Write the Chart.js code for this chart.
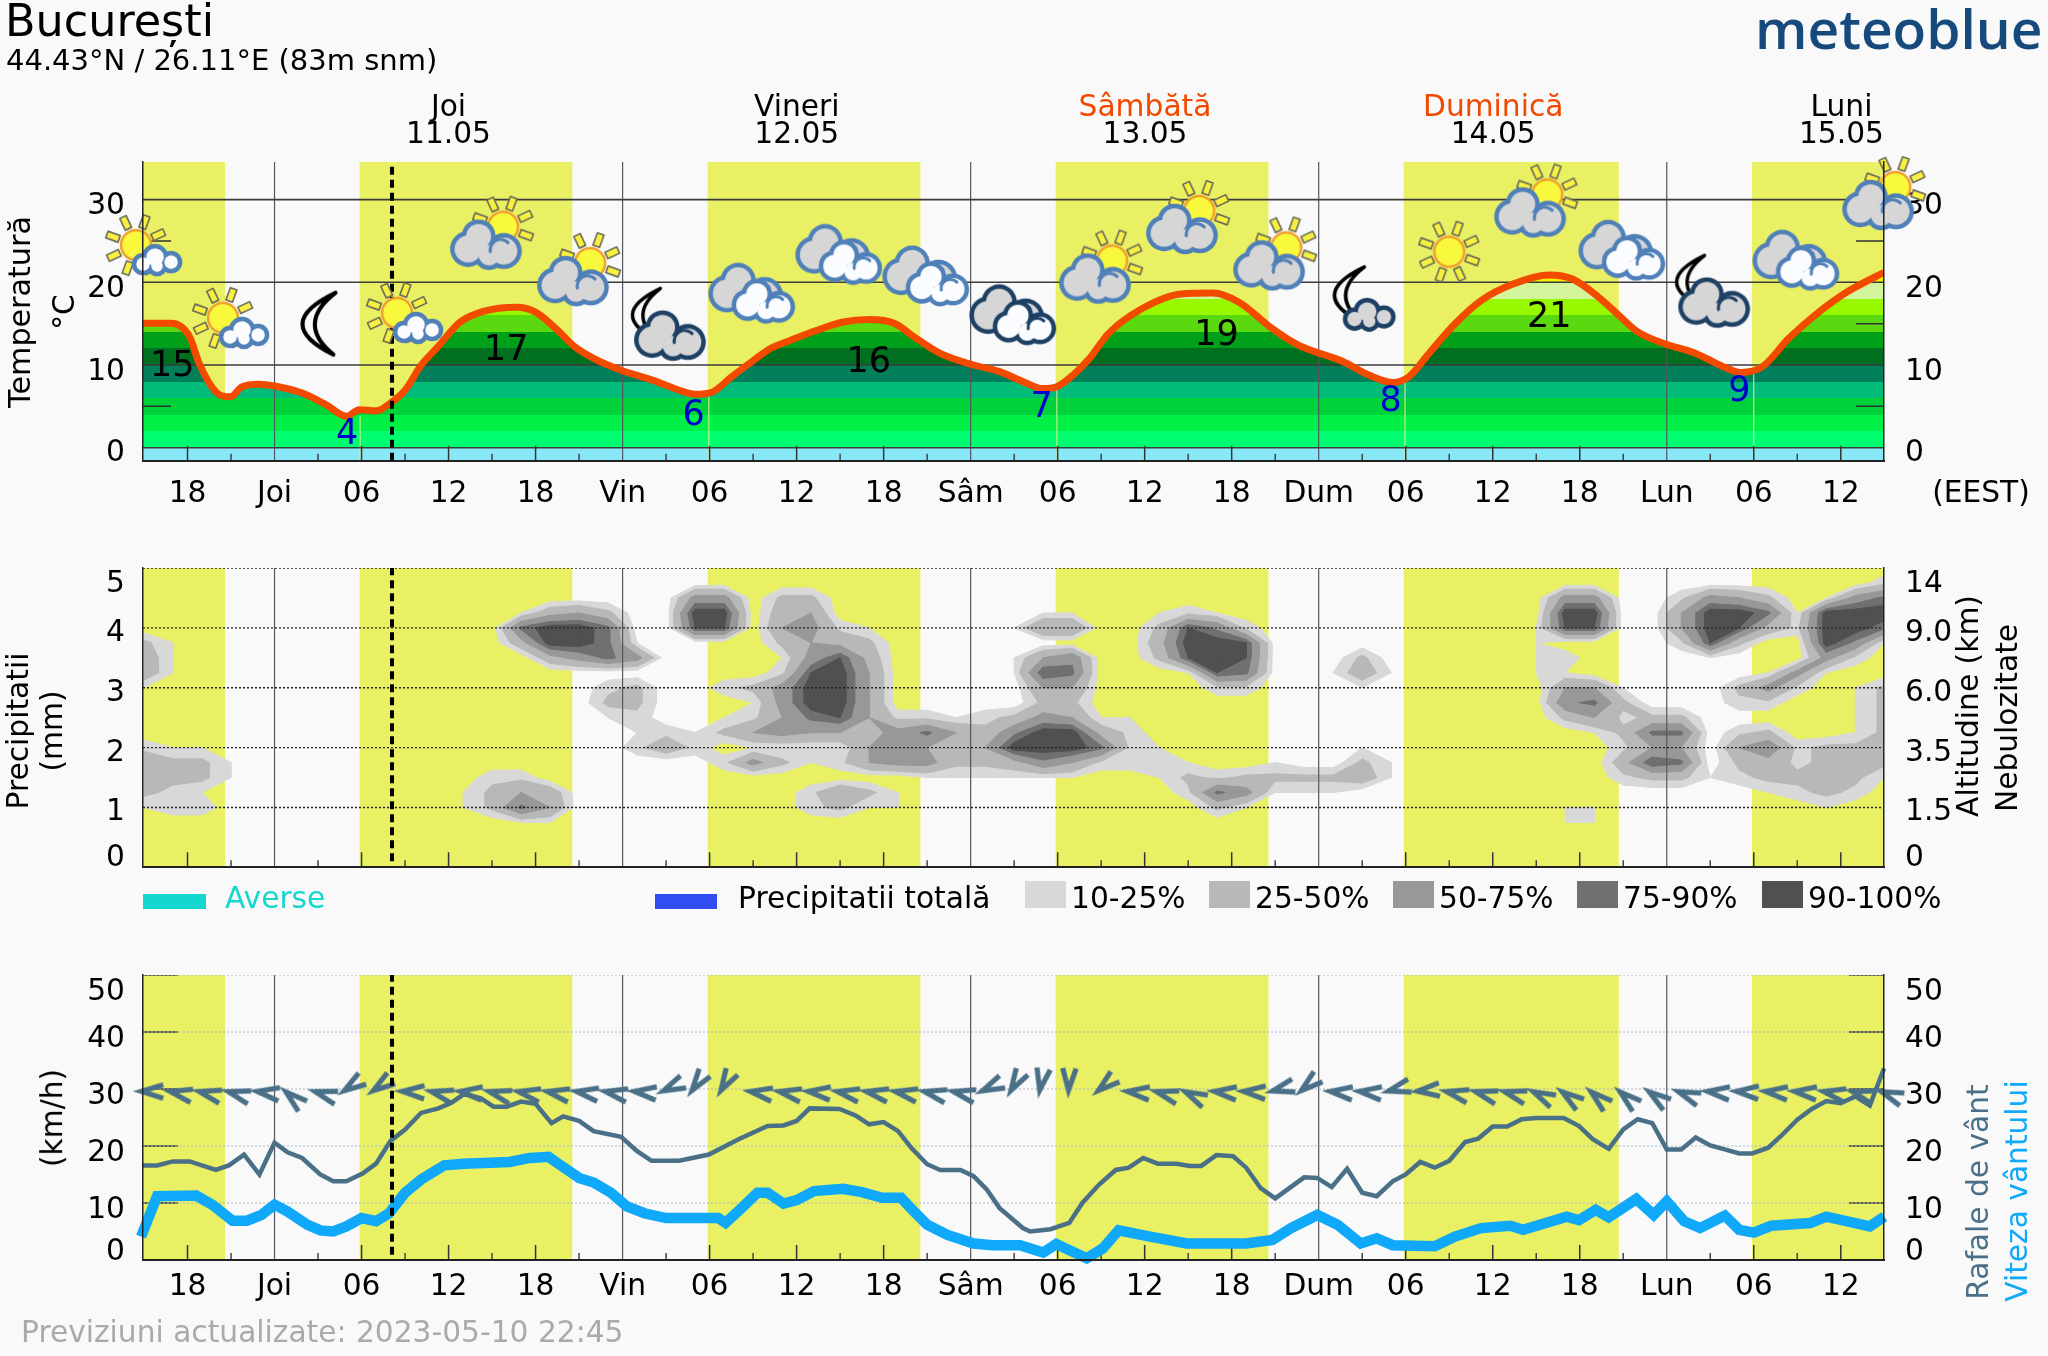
<!DOCTYPE html>
<html>
<head>
<meta charset="utf-8">
<title>Bucuresti meteogram</title>
<script src="https://cdn.jsdelivr.net/npm/chart.js@4"></script>
<style>
  body { margin: 0; background: #f9f9f9; overflow: hidden; font-family: "DejaVu Sans"; }
  canvas { position: absolute; left: 0; }
  .t { position: absolute; white-space: nowrap; color: #000; font-size: 29.7px; line-height: 1; }
</style>
</head>
<body>
<canvas id="chartTemp" width="2048" height="520" style="top:0"></canvas>
<canvas id="chartCloud" width="2048" height="380" style="top:530px"></canvas>
<canvas id="chartWind" width="2048" height="390" style="top:930px"></canvas>
<script>
// time axis is in hours from Thursday 00:00
var hourMin = -9.07, hourMax = 110.98;
var xTickHours = [-6, 0, 6, 12, 18, 24, 30, 36, 42, 48, 54, 60, 66, 72, 78, 84, 90, 96, 102, 108];
var xTickLabels = ['18', 'Joi', '06', '12', '18', 'Vin', '06', '12', '18', 'Sâm', '06', '12', '18', 'Dum', '06', '12', '18', 'Lun', '06', '12'];
var dayHours = [0, 24, 48, 72, 96];
var nowHour = 8.1;
var sunStart = [-9.07, 5.85, 29.85, 53.85, 77.85, 101.85];
var sunEnd = [-3.4, 20.55, 44.55, 68.55, 92.7, 110.98];
var sunriseHours = [5.9, 29.95, 53.95, 77.95, 102];
var sunriseTemp = [3.8, 6.5, 7.3, 8, 9];

var dayNames = ['Joi', 'Vineri', 'Sâmbătă', 'Duminică', 'Luni'];
var dayDates = ['11.05', '12.05', '13.05', '14.05', '15.05'];
var dayNameColors = ['#000', '#000', '#f04a00', '#f04a00', '#000'];

var tempHours = [-9.07, -7.1, -5.85, -5.2, -4.05, -3.06, -2.25, -1.1, 0, 2, 3.6, 4.95, 5.85, 7, 8.1, 9, 10.1, 11.26, 12.8, 14.4, 16.7, 18, 19.4, 20.7, 22, 23.9, 26.1, 27.9, 29, 30.2, 31.5, 32.9, 34.2, 35.6, 37.4, 39.2, 41, 42.8, 44.1, 45.9, 48.2, 50, 51.66, 53, 53.9, 55.04, 56.2, 57.5, 59.8, 62.5, 64.7, 66.5, 68.8, 70.6, 73.7, 75.5, 77.1, 78.2, 79.6, 81.4, 83.2, 85.4, 87.9, 89.5, 91.3, 92.7, 94, 95.8, 98, 99.9, 101.1, 102.6, 104.4, 106.2, 108.4, 110.98];
var tempValues = [15.06, 15.06, 13.4, 10.2, 6.75, 6.15, 7.35, 7.67, 7.47, 6.55, 5.14, 3.8, 4.6, 4.46, 5.54, 6.95, 9.96, 12.2, 15.2, 16.5, 17, 16.4, 14.4, 12.2, 10.8, 9.36, 8.15, 6.95, 6.47, 6.75, 8.55, 10.4, 12, 13, 14.2, 15.2, 15.5, 15, 13.4, 11.4, 10, 9.2, 7.95, 7.15, 7.35, 8.75, 10.8, 13.8, 16.8, 18.6, 18.7, 17.6, 14.4, 12.4, 10.4, 8.75, 7.9, 8.55, 11.4, 15, 17.8, 19.8, 20.9, 20.4, 18.2, 16, 14, 12.6, 11.4, 9.8, 9.1, 9.8, 13.2, 16, 18.8, 21.2];
var tempBandEdges = [-2, 0, 2, 4, 6, 8, 10, 12, 14, 16, 18, 20, 22];
var tempBandColors = ['#88e8f8', '#00ff70', '#00f048', '#00d23c', '#00bc78', '#007f5a', '#007020', '#00a01a', '#5ad810', '#98f800', '#d2f49a', '#f5f000'];
var tempMaxHours = [-7.05, 15.97, 40.97, 64.96, 87.9];
var tempMaxY = [9.8, 11.7, 10.3, 13.5, 15.7];
var tempMaxText = ['15', '17', '16', '19', '21'];
var tempMinHours = [5, 28.9, 52.9, 76.96, 101];
var tempMinY = [1.5, 3.9, 4.8, 5.6, 6.8];
var tempMinText = ['4', '6', '7', '8', '9'];

// weather symbols, one every 6 hours
var iconHours = [-9, -3, 3, 9, 15, 21, 27, 33, 39, 45, 51, 57, 63, 69, 75, 81, 87, 93, 99, 105, 111];
var iconY = [24.5, 15.7, 15, 16.3, 26, 21.6, 15, 18.8, 23.5, 20.9, 16.2, 21.9, 27.9, 23.5, 18, 23.7, 29.9, 24, 19, 22.8, 30.8];
var iconKinds = ['sunSmall', 'sunSmall', 'moon', 'sunSmall', 'sunCloud', 'sunCloud', 'moonCloud', 'clouds', 'clouds', 'clouds', 'darkClouds', 'sunCloud', 'sunCloud', 'sunCloud', 'moonSmall', 'sun', 'sunCloud', 'clouds', 'moonCloud', 'clouds', 'sunCloud'];

// cloud cover in tenths, X = full, one column every 2 hours from -9, one row per level below
var cloudRowY = [5, 4.75, 4.5, 4.25, 4, 3.75, 3.5, 3.25, 3, 2.75, 2.5, 2.25, 2, 1.75, 1.5, 1.25, 1, 0.75, 0.5];
var cloudRows = [
  '.......... .......... .......... .......... .......... .......... .',
  '.......... .......... .......... .......... .......... .......... 2',
  '.......... .........6 6.33...... .......... .........6 6..2653.16 8',
  '.......... ...1453..X X.45...... .11..121.. .........X X..5XX81XX X',
  '.......... ...8XX8..9 9.5621.... 155..3972. ........19 9..5X942XX 8',
  '31........ ...4XX81.. ..3543.... .....4XX9. ........1. ...293..X7 1',
  '41........ ....4686.. ..1694.... 157..39X9. ..3.....12 ....1...62 .',
  '41........ .......... ..29X5.... 198...198. .141....11 ......161. .',
  '1......... ......23.. 236XX5.... .55....22. ..1......5 51...362.1 3',
  '.......... ......33.. .16XX5.... .33....... .........7 83...22..1 3',
  '.......... ......12.. 1258952212 36511..... .........3 5233.....1 3',
  '.......... .......121 3565546853 7XX42..... .......... 1388.23..1 3',
  '211....... .......242 .111155535 XXX821.... ..1....... .255.57233 3',
  '4331...... .......... 2631256633 4752211..1 ..31...... .498.34233 3',
  '4331...... ..22...... .......111 111..13233 3341...... .233123333 1',
  '321....... .1354..... ...2531... ......2861 11........ ......1232 .',
  '122....... .1385..... ...2311... .......31. .........1 1.......1. .',
  '.......... ...11..... .......... .......... .........1 1......... .',
  '.......... .......... .......... .......... .......... .......... .'
];
var cloudThresholds = [10, 25, 50, 75, 90];
var cloudColors = ['#d8d8d8', '#b8b8b8', '#989898', '#707070', '#505050'];

var legendItems = ['10-25%', '25-50%', '50-75%', '75-90%', '90-100%'];

var gustHours = [-9.07, -8.1, -7, -5.85, -4.05, -3.15, -2.1, -1.04, 0, 0.9, 1.9, 3.15, 4.05, 4.95, 6.1, 7, 8, 9, 10.1, 11.3, 12.2, 13.06, 14.2, 15.1, 16, 17, 18, 19.1, 19.9, 21, 22, 23.9, 25, 26, 27.9, 29.95, 32, 34, 35.1, 36, 36.9, 38.96, 40.1, 41, 42, 43, 43.9, 45, 45.9, 47.3, 48.2, 49.1, 50, 51.6, 52.1, 53.5, 54.8, 55.7, 56.84, 58, 58.9, 59.9, 60.9, 62.2, 63.1, 63.9, 64.95, 66.1, 67, 68, 69, 71, 71.9, 72.9, 73.96, 75, 76, 77.1, 78, 79, 80, 81, 82.1, 83, 84, 85, 86, 87, 88.9, 89.95, 90.9, 92, 93, 94, 95, 96, 97, 98, 99, 100, 101, 101.9, 103, 103.9, 105, 106, 107, 108, 109, 110, 110.98];
var gustValues = [16.6, 16.6, 17.3, 17.3, 15.8, 16.6, 18.5, 15, 20.6, 18.9, 17.9, 15, 13.8, 13.8, 15.2, 16.9, 20.9, 22.9, 25.8, 26.6, 27.6, 29.1, 28.4, 26.9, 26.9, 27.8, 27.4, 24, 25.2, 24.4, 22.6, 21.6, 19.1, 17.4, 17.4, 18.5, 21.2, 23.5, 23.6, 24.4, 26.6, 26.5, 25.3, 23.8, 24.2, 22.6, 19.7, 16.8, 15.8, 15.8, 14.7, 12.4, 9.1, 5.6, 5, 5.4, 6.5, 10, 13.2, 15.8, 16.2, 17.9, 16.9, 16.9, 16.5, 16.5, 18.4, 18.2, 16.2, 12.6, 10.8, 14.5, 14.4, 12.8, 16, 11.8, 11.2, 13.8, 15, 17.2, 16.2, 17.4, 20.7, 21.3, 23.4, 23.4, 24.7, 24.9, 24.9, 23.5, 21.2, 19.5, 22.9, 24.7, 24, 19.4, 19.4, 21.5, 20.1, 19.4, 18.7, 18.7, 19.7, 21.8, 24.6, 26.5, 27.9, 27.5, 28.7, 27.1, 33.6];
var windHours = [-9.2, -8.1, -5.4, -4.3, -2.9, -1.9, -0.9, 0, 0.9, 2.25, 3.15, 4.05, 4.95, 6, 7, 7.9, 9, 10.1, 11.7, 13.06, 16.2, 17.6, 18.9, 19.8, 21, 22, 23.2, 24.3, 25.5, 27, 30.6, 31.1, 32.2, 33.3, 34, 35.1, 36, 37.2, 39.2, 40.5, 41.9, 43.2, 44.1, 45, 46.4, 48.2, 49.5, 51.4, 53, 53.9, 55, 56, 57.1, 58.2, 60.2, 62.9, 67, 68.8, 70.1, 71.9, 73.3, 74.9, 76, 77.1, 80, 81.4, 83.2, 85.2, 86.1, 89.1, 89.95, 91.1, 92, 93.9, 95.1, 96, 97.2, 98.3, 100, 101, 102, 103.2, 105.9, 107, 110, 111];
var windValues = [4.1, 11.2, 11.3, 9.7, 6.9, 6.9, 7.9, 9.7, 8.5, 6.2, 5.2, 5, 5.9, 7.35, 6.8, 8.2, 11.8, 14.1, 16.6, 16.9, 17.2, 17.9, 18.1, 16.5, 14.4, 13.6, 11.8, 9.4, 8.2, 7.35, 7.35, 6.5, 9.1, 11.8, 11.8, 9.9, 10.5, 12.1, 12.5, 11.9, 10.9, 10.9, 8.5, 6.2, 4.4, 2.9, 2.6, 2.6, 1.3, 2.8, 1.5, 0.3, 2, 5.2, 4.2, 2.9, 2.9, 3.5, 5.6, 7.9, 6.2, 2.9, 3.8, 2.6, 2.4, 4.1, 5.6, 6, 5.3, 7.6, 7, 8.8, 7.5, 10.7, 7.9, 10.3, 6.8, 5.6, 7.8, 5.3, 4.8, 6, 6.5, 7.6, 5.9, 7.6];
// wind direction chevrons, one every 2 hours, degrees of turn from pointing left
var arrowFirstHour = -9.26;
var arrowTurn = [0, 11, 13, 15, 7, 40, 16, -34, -35, 2, 13, 5, 14, 10, 10, 8, 10, 5, -25, -55, -60, 8, 10, 5, 10, 10, 10, 12, 12, -25, -60, -80, -88, -40, 5, 15, 25, 5, 3, -15, -40, 5, 5, -15, -5, 12, 15, 15, 25, 35, 40, 40, 35, 20, 5, 3, 5, 5, 10, 15, 20];

var leftTempLabels = ['0', '10', '20', '30'];
var tempTickValues = [0, 10, 20, 30];
var rainLabels = ['0', '1', '2', '3', '4', '5'];
var altLabels = ['0', '1.5', '3.5', '6.0', '9.0', '14'];
var rainTickValues = [0, 1, 2, 3, 4, 5];
var windLabels = ['0', '10', '20', '30', '40', '50'];
var windTickValues = [0, 10, 20, 30, 40, 50];

Chart.defaults.font.family = '"DejaVu Sans"';
Chart.defaults.font.size = 29.7;
Chart.defaults.color = '#000';
Chart.defaults.animation = false;

// ---- symbols ----
function newIcon(draw) {
  var cv = document.createElement('canvas');
  cv.width = 140;
  cv.height = 120;
  var c = cv.getContext('2d');
  c.translate(70, 60);
  c.lineJoin = 'round';
  c.lineCap = 'round';
  draw(c);
  return cv;
}

function drawSun(c, x, y) {
  for (var i = 0; i < 8; i++) {
    c.save();
    c.translate(x, y);
    c.rotate((i * 45 + 20) * Math.PI / 180);
    c.beginPath();
    c.rect(18, -3.5, 13, 7);
    c.fillStyle = '#f8f040';
    c.fill();
    c.strokeStyle = '#6a6a5a';
    c.lineWidth = 1.6;
    c.stroke();
    c.restore();
  }
  c.beginPath();
  c.arc(x, y, 15, 0, Math.PI * 2);
  c.fillStyle = '#f8f83c';
  c.fill();
  c.strokeStyle = '#f0a030';
  c.lineWidth = 2.5;
  c.stroke();
}

function blobs(c, x, y, s, list, fill, stroke, lw) {
  list.forEach(function (b) {
    c.beginPath();
    c.arc(x + b[0] * s, y + b[1] * s, b[2] * s + lw / 2, 0, Math.PI * 2);
    c.fillStyle = stroke;
    c.fill();
  });
  list.forEach(function (b) {
    c.beginPath();
    c.arc(x + b[0] * s, y + b[1] * s, b[2] * s - lw / 2, 0, Math.PI * 2);
    c.fillStyle = fill;
    c.fill();
  });
}

function bigCloud(c, x, y, s, fill, stroke) {
  blobs(c, x, y, s, [[-20, 4, 15], [-10, -8, 14], [14, 6, 15], [0, 10, 12]], fill, stroke, 4.5);
  c.beginPath();
  c.arc(x + 11 * s, y + 5 * s, 10 * s, Math.PI * 0.95, Math.PI * 1.75);
  c.strokeStyle = stroke;
  c.lineWidth = 3;
  c.stroke();
}

function smallCloud(c, x, y, s, fill, stroke) {
  blobs(c, x, y, s, [[-14, 4, 9], [-2, -3, 11], [14, 2, 9], [0, 6, 8]], fill, stroke, 4.5);
}

function drawMoon(c, x, y, s) {
  c.save();
  c.translate(x, y);
  c.scale(s, s);
  c.beginPath();
  c.moveTo(14, -30);
  c.quadraticCurveTo(-49, 0, 12, 30);
  c.quadraticCurveTo(-25, 0, 14, -30);
  c.fillStyle = '#fafafa';
  c.fill();
  c.strokeStyle = '#000';
  c.lineWidth = 4;
  c.stroke();
  c.restore();
}

var blueLine = '#5080b8';
var darkLine = '#1e4064';
var grayFill = '#d6d6d6';
var iconCanvas = {
  sun: newIcon(function (c) { drawSun(c, 0, 0); }),
  sunSmall: newIcon(function (c) {
    drawSun(c, -8, 0);
    smallCloud(c, 13, 15, 1, '#fafcff', blueLine);
  }),
  sunCloud: newIcon(function (c) {
    drawSun(c, 11, -6);
    bigCloud(c, -3, 12, 1.05, grayFill, blueLine);
  }),
  clouds: newIcon(function (c) {
    bigCloud(c, -4, -3, 1.1, grayFill, blueLine);
    bigCloud(c, 13, 9, 0.92, '#fafcff', blueLine);
  }),
  darkClouds: newIcon(function (c) {
    bigCloud(c, -4, -3, 1.1, grayFill, darkLine);
    bigCloud(c, 13, 9, 0.92, '#fafcff', darkLine);
  }),
  moon: newIcon(function (c) { drawMoon(c, 3, 0, 1.03); }),
  moonCloud: newIcon(function (c) {
    drawMoon(c, -18, -9, 0.87);
    bigCloud(c, 7, 12, 1.05, grayFill, darkLine);
  }),
  moonSmall: newIcon(function (c) {
    drawMoon(c, -11, -4, 0.93);
    smallCloud(c, 7, 16, 1.05, grayFill, darkLine);
  })
};

// chevron with its tip on the centre of the small canvas
var chevron = document.createElement('canvas');
chevron.width = 60;
chevron.height = 60;
(function () {
  var c = chevron.getContext('2d');
  c.strokeStyle = '#4a7088';
  c.lineWidth = 5;
  c.beginPath();
  c.moveTo(53, 23.5);
  c.lineTo(31, 30);
  c.lineTo(53, 37);
  c.stroke();
})();

// ---- dataset helpers ----
function segments(list, color, width, order, dash) {
  var pts = [];
  list.forEach(function (s) {
    pts.push({ x: s[0], y: s[1] });
    pts.push({ x: s[2], y: s[3] });
    pts.push({ x: NaN, y: NaN });
  });
  return {
    data: pts, borderColor: color, borderWidth: width, borderDash: dash || [],
    pointRadius: 0, fill: false, order: order
  };
}

function sunDatasets(yMax) {
  return sunStart.map(function (s, i) {
    return {
      data: [{ x: s, y: yMax }, { x: sunEnd[i], y: yMax }],
      borderWidth: 0, pointRadius: 0, fill: 'start',
      backgroundColor: '#e9f064', order: 100
    };
  });
}

function axisMarks(yMin, yMax, unitPx) {
  var minor = [], major = [], days = [];
  for (var h = -6; h <= 108; h += 3) {
    if (h % 24 === 0) continue;
    var len = h % 6 === 0 ? 15 : 7;
    (h % 6 === 0 ? major : minor).push([h, yMin, h, yMin + len / unitPx]);
  }
  dayHours.forEach(function (d) { days.push([d, yMin, d, yMax]); });
  return [
    segments(days, '#55555f', 1.2, 50),
    segments(minor, '#444', 1.5, 52),
    segments(major, '#333', 1.5, 52)
  ];
}

function placeTicks(scale, values, shiftPx, unitPx) {
  scale.ticks = values.map(function (v, i) {
    return { value: v - shiftPx[i] / unitPx };
  });
}

function baseOptions(cfg) {
  return {
    responsive: false,
    events: [],
    layout: { padding: { top: cfg.top, bottom: 0, left: 0, right: 0 } },
    plugins: { legend: { display: false }, tooltip: { enabled: false }, title: { display: false } },
    scales: {
      x: {
        type: 'linear', min: hourMin, max: hourMax,
        grid: { display: false },
        border: { display: true, color: '#222', width: 2, z: 2 },
        ticks: {
          display: cfg.showHours, autoSkip: false, maxRotation: 0, padding: cfg.xPad,
          callback: function (v, i) { return xTickLabels[i]; }
        },
        afterBuildTicks: function (s) {
          s.ticks = xTickHours.map(function (h) { return { value: h }; });
        },
        afterFit: function (s) { s.height = cfg.xHeight; }
      },
      y: {
        position: 'left', min: cfg.yMin, max: cfg.yMax,
        grid: { display: false },
        border: { display: true, color: '#222', width: 1.5, z: 2 },
        ticks: {
          autoSkip: false, padding: 10,
          callback: function (v, i) { return cfg.leftLabels[i]; }
        },
        afterBuildTicks: function (s) { placeTicks(s, cfg.tickValues, cfg.shift, cfg.unitPx); },
        afterFit: function (s) { s.width = 143; }
      },
      yRight: {
        position: 'right', min: cfg.yMin, max: cfg.yMax,
        grid: { display: false },
        border: { display: true, color: '#222', width: 1.5, z: 2 },
        ticks: {
          autoSkip: false, padding: 13,
          callback: function (v, i) { return cfg.rightLabels[i]; }
        },
        afterBuildTicks: function (s) { placeTicks(s, cfg.tickValues, cfg.shift, cfg.unitPx); },
        afterFit: function (s) { s.width = 164; }
      }
    }
  };
}

// ---- temperature panel ----
var tempMin = -1.57, tempMax = 34.55, tempUnit = 8.27;

function tempGradient(ctx) {
  var chart = ctx.chart;
  if (!chart.chartArea) return '#00a01a';
  var sc = chart.scales.y;
  var y0 = sc.getPixelForValue(tempBandEdges[0]);
  var y1 = sc.getPixelForValue(tempBandEdges[tempBandEdges.length - 1]);
  var g = chart.ctx.createLinearGradient(0, y0, 0, y1);
  var span = tempBandEdges[tempBandEdges.length - 1] - tempBandEdges[0];
  tempBandColors.forEach(function (c, i) {
    g.addColorStop((tempBandEdges[i] - tempBandEdges[0]) / span, c);
    g.addColorStop((tempBandEdges[i + 1] - tempBandEdges[0]) / span, c);
  });
  return g;
}

var tempPoints = tempHours.map(function (h, i) { return { x: h, y: tempValues[i] }; });

var tempLabelsPlugin = {
  id: 'tempLabels',
  afterDatasetsDraw: function (chart) {
    var c = chart.ctx, sx = chart.scales.x, sy = chart.scales.y;
    c.save();
    c.font = '35px "DejaVu Sans"';
    c.textAlign = 'center';
    c.textBaseline = 'middle';
    c.fillStyle = '#000';
    tempMaxText.forEach(function (t, i) {
      c.fillText(t, sx.getPixelForValue(tempMaxHours[i]), sy.getPixelForValue(tempMaxY[i]));
    });
    c.fillStyle = '#0000cc';
    tempMinText.forEach(function (t, i) {
      c.fillText(t, sx.getPixelForValue(tempMinHours[i]), sy.getPixelForValue(tempMinY[i]));
    });
    c.restore();
  }
};

var tempGrid = tempTickValues.map(function (v) { return [hourMin, v, hourMax, v]; });
var tempShort = [];
[5, 15, 25].forEach(function (v) {
  tempShort.push([hourMin, v, hourMin + 1.93, v]);
  tempShort.push([hourMax - 1.93, v, hourMax, v]);
});
var sunriseLines = sunriseHours.map(function (h, i) { return [h, tempMin, h, sunriseTemp[i]]; });

new Chart(document.getElementById('chartTemp'), {
  type: 'line',
  data: {
    datasets: sunDatasets(tempMax).concat([
      {
        data: tempPoints, borderWidth: 0, pointRadius: 0, fill: 'start',
        cubicInterpolationMode: 'monotone', backgroundColor: tempGradient, order: 90
      },
      segments(sunriseLines, '#eef08a', 1, 60),
      segments(tempGrid, '#3c3c3c', 1.6, 48),
      segments(tempShort, '#333', 1.5, 48),
      {
        data: tempPoints, borderColor: '#f24b00', borderWidth: 7, pointRadius: 0, fill: false,
        cubicInterpolationMode: 'monotone', order: 30
      },
      segments([[nowHour, tempMin, nowHour, tempMax]], '#000', 4, 25, [8, 5]),
      {
        data: iconHours.map(function (h, i) { return { x: h, y: iconY[i] }; }),
        showLine: false, clip: false, pointRadius: 40, order: 10,
        pointStyle: iconKinds.map(function (k) { return iconCanvas[k]; })
      }
    ]).concat(axisMarks(tempMin, tempMax, tempUnit))
  },
  options: baseOptions({
    top: 162, xHeight: 59.3, showHours: true, xPad: 8,
    yMin: tempMin, yMax: tempMax, unitPx: tempUnit,
    tickValues: tempTickValues, leftLabels: leftTempLabels, rightLabels: leftTempLabels,
    shift: [6, 7, 7, 7]
  }),
  plugins: [tempLabelsPlugin]
});

// ---- cloud panel ----
var cloudUnit = 59.86;
var cloudGrid = cloudRows.map(function (r) {
  return r.replace(/ /g, '').split('').map(function (ch) {
    if (ch === '.') return 0;
    if (ch === 'X') return 100;
    return Number(ch) * 10;
  });
});

// part of one grid cell at or above a threshold
function clipCell(corners, t) {
  var out = [];
  corners.forEach(function (a, i) {
    var b = corners[(i + 1) % corners.length];
    if (a.v >= t) out.push(a);
    if ((a.v >= t) !== (b.v >= t)) {
      var f = (t - a.v) / (b.v - a.v);
      out.push({ x: a.x + (b.x - a.x) * f, y: a.y + (b.y - a.y) * f, v: t });
    }
  });
  return out;
}

function polyArea(p) {
  var a = 0;
  p.forEach(function (q, i) {
    var r = p[(i + 1) % p.length];
    a += q.x * r.y - r.x * q.y;
  });
  return Math.abs(a);
}

function cloudDataset(t, color, idx) {
  var pts = [];
  for (var r = 0; r < cloudGrid.length - 1; r++) {
    for (var k = 0; k < cloudGrid[r].length - 1; k++) {
      var h0 = -9 + 2 * k, h1 = h0 + 2;
      var poly = clipCell([
        { x: h0, y: cloudRowY[r], v: cloudGrid[r][k] },
        { x: h1, y: cloudRowY[r], v: cloudGrid[r][k + 1] },
        { x: h1, y: cloudRowY[r + 1], v: cloudGrid[r + 1][k + 1] },
        { x: h0, y: cloudRowY[r + 1], v: cloudGrid[r + 1][k] }
      ], t);
      if (poly.length < 3 || polyArea(poly) < 0.0005) continue;
      poly.forEach(function (p) { pts.push({ x: p.x, y: p.y }); });
      pts.push({ x: poly[0].x, y: poly[0].y });
      pts.push({ x: NaN, y: NaN });
    }
  }
  return {
    data: pts, fill: 'shape', backgroundColor: color, borderColor: color, borderWidth: 1,
    pointRadius: 0, order: 70 - idx
  };
}

var cloudLines = rainTickValues.slice(1).map(function (v) { return [hourMin, v, hourMax, v]; });

new Chart(document.getElementById('chartCloud'), {
  type: 'line',
  data: {
    datasets: sunDatasets(5).concat(cloudThresholds.map(function (t, i) {
      return cloudDataset(t, cloudColors[i], i);
    })).concat([
      segments(cloudLines, '#222', 1.4, 48, [2, 2]),
      segments([[nowHour, 0.1, nowHour, 5]], '#000', 4, 25, [8, 5])
    ]).concat(axisMarks(0, 5, cloudUnit))
  },
  options: baseOptions({
    top: 38, xHeight: 42.7, showHours: false, xPad: 0,
    yMin: 0, yMax: 5, unitPx: cloudUnit,
    tickValues: rainTickValues, leftLabels: rainLabels, rightLabels: altLabels,
    shift: [-9, 4.5, 5.5, 5.5, 5.5, 16]
  })
});

// ---- wind panel ----
var windUnit = 5.7;
var windLines = windTickValues.slice(1).map(function (v) { return [hourMin, v, hourMax, v]; });
var windShort = [];
windTickValues.slice(1).forEach(function (v) {
  windShort.push([hourMin, v, hourMin + 2.4, v]);
  windShort.push([hourMax - 2.4, v, hourMax, v]);
});

new Chart(document.getElementById('chartWind'), {
  type: 'line',
  data: {
    datasets: sunDatasets(50).concat([
      segments(windLines, '#a8b8c4', 1, 48, [2, 2]),
      segments(windShort, '#333', 1.5, 48),
      {
        data: arrowTurn.map(function (a, i) { return { x: arrowFirstHour + 2 * i, y: 29.6 }; }),
        showLine: false, clip: false, pointRadius: 30, pointStyle: chevron,
        pointRotation: arrowTurn, order: 35
      },
      {
        data: gustHours.map(function (h, i) { return { x: h, y: gustValues[i] }; }),
        borderColor: '#4a7088', borderWidth: 4.5, pointRadius: 0, fill: false, clip: false, order: 30
      },
      {
        data: windHours.map(function (h, i) { return { x: h, y: windValues[i] }; }),
        borderColor: '#10a8f8', borderWidth: 10.5, pointRadius: 0, fill: false, clip: false, order: 28
      },
      segments([[nowHour, 0.9, nowHour, 50]], '#000', 4, 25, [8, 5])
    ]).concat(axisMarks(0, 50, windUnit))
  },
  options: baseOptions({
    top: 45, xHeight: 60, showHours: true, xPad: 1,
    yMin: 0, yMax: 50, unitPx: windUnit,
    tickValues: windTickValues, leftLabels: windLabels, rightLabels: windLabels,
    shift: [-7.5, 7, 7, 7, 7, 17]
  })
});

// ---- text round the charts ----
function addText(text, x, y, style, rotate) {
  var el = document.createElement('div');
  el.className = 't';
  el.textContent = text;
  el.style.left = x + 'px';
  el.style.top = y + 'px';
  el.style.transform = 'translate(-50%,-50%)' + (rotate ? ' rotate(-90deg)' : '');
  Object.assign(el.style, style || {});
  document.body.appendChild(el);
  return el;
}
function addLeft(text, x, y, style) {
  var el = addText(text, x, y, style);
  el.style.transform = 'translateY(-50%)';
  return el;
}
function addBox(x, y, w, h, color) {
  var el = document.createElement('div');
  el.style.cssText = 'position:absolute;left:' + x + 'px;top:' + y + 'px;width:' + w + 'px;height:' + h + 'px;background:' + color;
  document.body.appendChild(el);
}

addLeft('București', 5, 21, { fontSize: '44.5px' });
addLeft('44.43°N / 26.11°E (83m snm)', 6, 60, { fontSize: '29px' });
addLeft('meteoblue', 1755, 27, { fontSize: '55px', fontFamily: '"Open Sans"', fontWeight: '600', color: '#174a7c' });

dayNames.forEach(function (n, i) {
  var x = 274.4 + 14.51 * (12 + 24 * i);
  addText(n, x, 106, { color: dayNameColors[i] });
  addText(dayDates[i], x, 133);
});
addText('(EEST)', 1981, 492);

addText('Temperatură', 20, 312, { fontSize: '30.2px' }, true);
addText('°C', 64, 312, {}, true);
addText('Precipitatii', 18, 731, {}, true);
addText('(mm)', 52, 731, {}, true);
addText('Altitudine (km)', 1968, 706, {}, true);
addText('Nebulozitate', 2007, 718, {}, true);
addText('(km/h)', 52, 1118, {}, true);
addText('Rafale de vânt', 1978, 1192, { color: '#4a7088' }, true);
addText('Viteza vântului', 2017, 1191, { color: '#10a8f8' }, true);

addBox(143, 894, 63, 15, '#14d8d0');
addLeft('Averse', 225, 898, { color: '#14d8d0' });
addBox(655, 894, 62, 15, '#2f4df0');
addLeft('Precipitatii totală', 738, 898);
var legendX = [1025, 1209, 1393, 1577, 1762];
legendItems.forEach(function (t, i) {
  addBox(legendX[i], 881, 41, 27, cloudColors[i]);
  addLeft(t, legendX[i] + 46, 898);
});
addLeft('Previziuni actualizate: 2023-05-10 22:45', 21, 1332, { color: '#aaa' });
</script>
</body>
</html>
